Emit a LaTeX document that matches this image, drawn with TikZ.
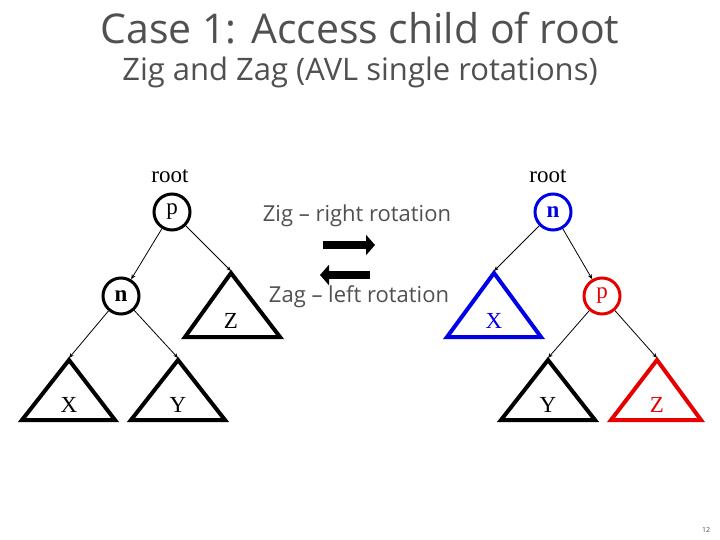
\documentclass[tikz,border=0pt]{standalone}
\usepackage{fontspec}
\setmainfont{Liberation Serif}
\newfontfamily\sans{Open Sans}
\usetikzlibrary{arrows.meta}
\definecolor{tgray}{RGB}{80,80,80}
\definecolor{mblue}{RGB}{0,0,230}
\definecolor{mred}{RGB}{230,0,0}
\begin{document}
\begin{tikzpicture}[x=1pt,y=-1pt,
 circ/.style={circle,draw,line width=3pt,minimum size=36pt,inner sep=0pt,font=\fontsize{23}{23}\selectfont},
 tri/.style={draw,line width=4pt,line join=miter},
 edge/.style={-{Stealth[length=5pt,width=4pt]},line width=0.8pt},
 lbl/.style={font=\fontsize{23}{23}\selectfont}]
\useasboundingbox (0,0) rectangle (720,540);
\node[font=\sans\fontsize{41}{41}\selectfont,text=tgray] (t) at (360,28) {Case 1: Access child of root};
\node[font=\sans\fontsize{31}{31}\selectfont,text=tgray] (st) at (360,72) {Zig and Zag (AVL single rotations)};
% left tree
\node[lbl] (r1) at (170,176) {root};
\node[circ] (p1) at (172,212) {p};
\node[circ] (n1) at (121,296) {\textbf{n}};
\draw[tri] (231,273) -- (280,337) -- (185,337) -- cycle;
\coordinate (z1) at (231,271);
\node[lbl] at (231,321) {Z};
\draw[tri] (69,360) -- (115,420) -- (22,420) -- cycle;
\coordinate (x1) at (69,358);
\node[lbl] at (69,405) {X};
\draw[tri] (178,360) -- (225,420) -- (131,420) -- cycle;
\coordinate (y1) at (178,358);
\node[lbl] at (178,405) {Y};
\draw[edge] (p1) -- (n1);
\draw[edge] (p1) -- (z1);
\draw[edge] (n1) -- (x1);
\draw[edge] (n1) -- (y1);
% middle
\node[font=\sans\fontsize{22}{22}\selectfont,text=tgray] (zig) at (357,216) {Zig – right rotation};
\node[font=\sans\fontsize{22}{22}\selectfont,text=tgray] (zag) at (359,297) {Zag – left rotation};
\coordinate (a1) at (323,245); \coordinate (a2) at (375,245);
\coordinate (b1) at (370,275); \coordinate (b2) at (320,275);
\draw[line width=8pt,-{Triangle[length=9pt,width=20pt]}] (a1) -- (a2);
\draw[line width=8pt,-{Triangle[length=9pt,width=20pt]}] (b1) -- (b2);
% right tree
\node[lbl] (r2) at (548,176) {root};
\node[circ,draw=mblue,text=mblue] (n2) at (553,212) {\textbf{n}};
\node[circ,draw=mred,text=mred] (p2) at (602,296) {p};
\draw[tri,draw=mblue] (494,273) -- (541,337) -- (447,337) -- cycle;
\coordinate (x2) at (494,271);
\node[lbl,text=mblue] at (494,321) {X};
\draw[tri] (548,360) -- (595,420) -- (501,420) -- cycle;
\coordinate (y2) at (548,358);
\node[lbl] at (548,405) {Y};
\draw[tri,draw=mred] (657,360) -- (701,420) -- (611,420) -- cycle;
\coordinate (z2) at (657,358);
\node[lbl,text=mred] at (657,405) {Z};
\draw[edge] (n2) -- (x2);
\draw[edge] (n2) -- (p2);
\draw[edge] (p2) -- (y2);
\draw[edge] (p2) -- (z2);
\node[font=\sans\fontsize{7}{7}\selectfont,text=tgray] (pg) at (706,530) {12};
\end{tikzpicture}
\end{document}
